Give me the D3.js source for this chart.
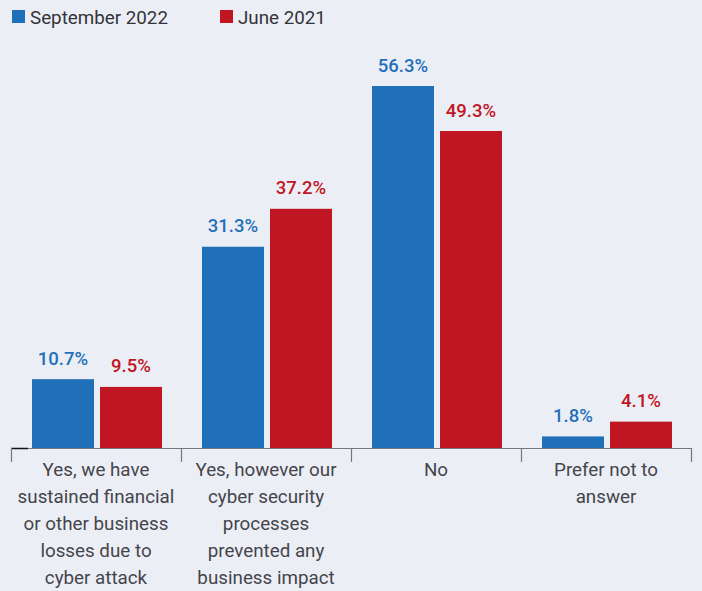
<!DOCTYPE html>
<html>
<head>
<meta charset="utf-8">
<script src="https://cdn.jsdelivr.net/npm/d3@7"></script>
<style>
  html, body { margin: 0; padding: 0; background: #eceef6; }
  svg { display: block; font-family: Roboto, "Noto Sans", sans-serif; }
</style>
</head>
<body>
<svg id="chart" width="702" height="591"></svg>
<script>
const categories = [
  ["Yes, we have", "sustained financial", "or other business", "losses due to", "cyber attack"],
  ["Yes, however our", "cyber security", "processes", "prevented any", "business impact"],
  ["No"],
  ["Prefer not to", "answer"]
];
const seriesNames = ["September 2022", "June 2021"];
const sept2022 = [10.7, 31.3, 56.3, 1.8];
const june2021 = [9.5, 37.2, 49.3, 4.1];
const colors = ["#1f70b9", "#c01623"];

const svg = d3.select("#chart");
const margin = { left: 11, right: 11, top: 30, bottom: 143 };
const W = 702, H = 591;
const baseY = H - margin.bottom; // 448

const idx = categories.map((d, i) => i);
const x = d3.scaleBand().domain(idx).range([margin.left, W - margin.right]).paddingInner(0).paddingOuter(0);
const inner = d3.scaleBand().domain([0, 1]).range([21, x.bandwidth() - 19]).paddingInner(6 / 68);
const y = d3.scaleLinear().domain([0, 56.3]).range([baseY, 86]);

const series = [sept2022, june2021];

// bars and their value labels
series.forEach((vals, s) => {
  svg.append("g").selectAll("rect").data(vals).join("rect")
    .attr("x", (d, i) => x(i) + inner(s))
    .attr("width", inner.bandwidth())
    .attr("y", d => y(d))
    .attr("height", d => baseY - y(d))
    .attr("fill", colors[s]);
  svg.append("g").selectAll("text").data(vals).join("text")
    .attr("x", (d, i) => x(i) + inner(s) + inner.bandwidth() / 2)
    .attr("y", d => y(d) - 14.5)
    .attr("text-anchor", "middle")
    .attr("font-size", 18.5)
    .attr("font-weight", 500)
    .attr("fill", colors[s])
    .text(d => d.toFixed(1) + "%");
});

// category axis
const axis = svg.append("g").attr("transform", `translate(0,${baseY})`);
axis.append("line").attr("x1", margin.left).attr("x2", W - margin.right)
  .attr("y1", 0.5).attr("y2", 0.5).attr("stroke", "#77787e").attr("stroke-width", 1.2);
axis.append("line").attr("x1", margin.left).attr("x2", 28)
  .attr("y1", 0.5).attr("y2", 0.5).attr("stroke", "#111").attr("stroke-width", 1.5);
const ticks = idx.map(i => x(i)).concat([x(idx[idx.length - 1]) + x.bandwidth()]);
axis.selectAll("line.tick").data(ticks).join("line").attr("class", "tick")
  .attr("x1", d => d + 0.5).attr("x2", d => d + 0.5)
  .attr("y1", 0).attr("y2", 14).attr("stroke", "#77787e").attr("stroke-width", 1.2);

axis.selectAll("text.cat").data(categories).join("text").attr("class", "cat")
  .attr("text-anchor", "middle")
  .attr("font-size", 18.8)
  .attr("fill", "#44454b")
  .each(function (lines, i) {
    d3.select(this).selectAll("tspan").data(lines).join("tspan")
      .attr("x", x(i) + x.bandwidth() / 2)
      .attr("y", (d, k) => 28 + k * 27)
      .text(d => d);
  });

// legend
const legendX = [12, 220];
const legend = svg.append("g");
seriesNames.forEach((name, s) => {
  legend.append("rect").attr("x", legendX[s]).attr("y", 10).attr("width", 13).attr("height", 13).attr("fill", colors[s]);
  legend.append("text").attr("x", legendX[s] + 18).attr("y", 23.5)
    .attr("font-size", 18.8).attr("fill", "#333438").text(name);
});
</script>
</body>
</html>
